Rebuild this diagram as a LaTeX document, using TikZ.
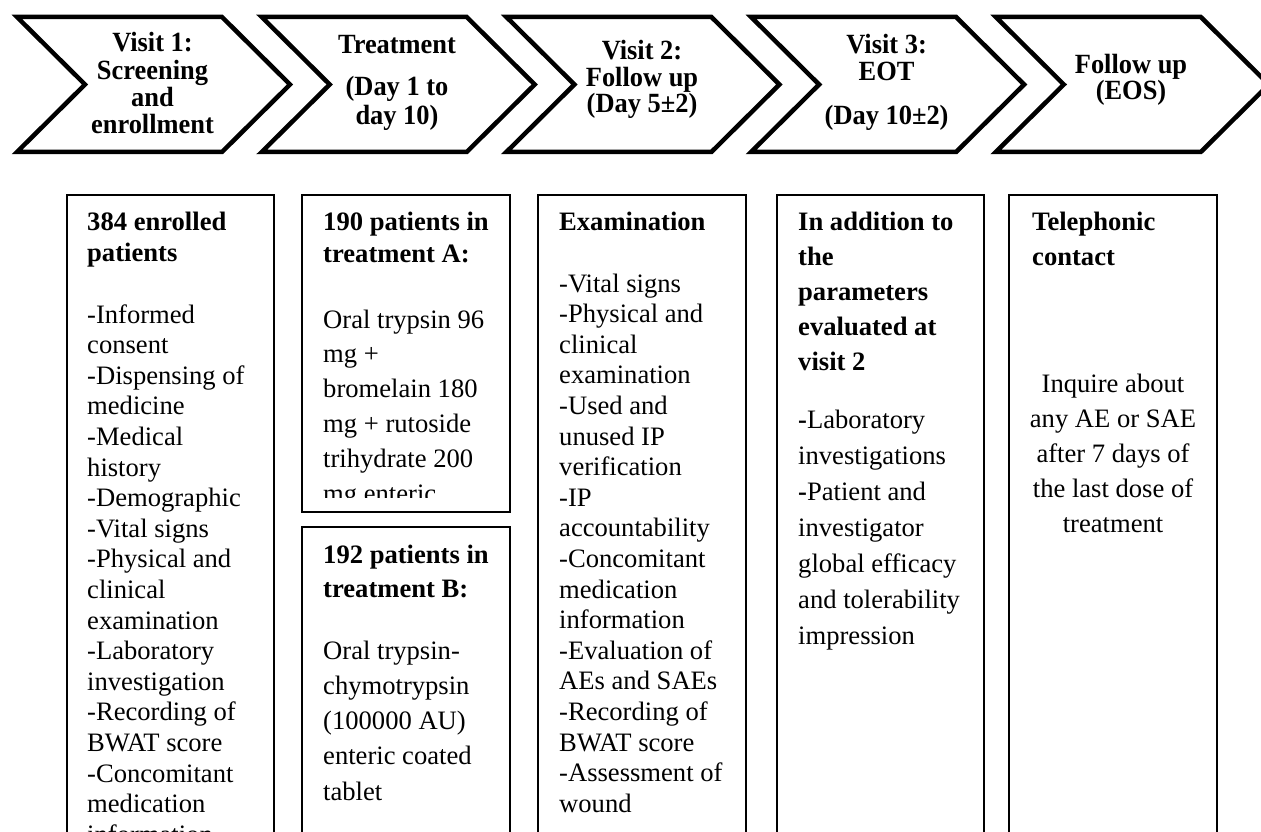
\documentclass[tikz,border=0pt]{standalone}
\usepackage{fontspec}
\usepackage{graphicx}
\setmainfont{Liberation Serif}
\newcommand\blines[5]{%
  \foreach \txtline [count=\i from 0] in {#5}{%
    \node[txt] (#1\i) at (#2,{#3+\i*#4}) {\txtline};}}
\newcommand\bclines[5]{%
  \foreach \txtline [count=\i from 0] in {#5}{%
    \node[txtc] (#1\i) at (#2,{#3+\i*#4}) {\txtline};}}
\newcommand\chlines[5]{%
  \foreach \txtline [count=\i from 0] in {#5}{%
    \node[chtxt] (#1\i) at (#2,{#3+\i*#4}) {\scalebox{0.95}[1]{\txtline}};}}
\begin{document}
\begin{tikzpicture}[x=1pt,y=-1pt,
  chev/.style={draw=black,line width=4.5pt,line join=miter,miter limit=10},
  box/.style={draw=black,line width=1.9pt},
  txt/.style={inner sep=0pt,anchor=base west,font=\fontsize{26.6}{30.6}\selectfont},
  txtc/.style={inner sep=0pt,anchor=base,font=\fontsize{26.6}{30.6}\selectfont},
  hd/.style={txt,font=\fontsize{26.6}{30.6}\selectfont\bfseries},
  chtxt/.style={inner sep=0pt,anchor=base,font=\fontsize{27.8}{27}\selectfont\bfseries}]
\useasboundingbox (0,0) rectangle (1261,832);
\clip (0,0) rectangle (1261,832);
\fill[white] (0,0) rectangle (1261,832);
% chevrons
\foreach \k in {0,...,4}{%
  \pgfmathsetmacro\xo{11+244.7*\k}
  \draw[chev] (\xo+6,17) -- (\xo+211,17) -- (\xo+279,84.5) -- (\xo+211,152)
     -- (\xo+6,152) -- (\xo+74,84.5) -- cycle;}
% chevron texts
\chlines{cA}{152.5}{52}{27.2}{Visit 1:,Screening,and,enrollment}
\node[chtxt] (cB0) at (397,54) {\scalebox{0.95}[1]{Treatment}};
\node[chtxt] (cB1) at (397,96) {\scalebox{0.95}[1]{(Day 1 to}};
\node[chtxt] (cB2) at (397,125) {\scalebox{0.95}[1]{day 10)}};
\node[chtxt] (cC0) at (642,60) {\scalebox{0.95}[1]{Visit 2:}};
\node[chtxt] (cC1) at (642,87) {\scalebox{0.95}[1]{Follow up}};
\node[chtxt] (cC2) at (642,113) {\scalebox{0.95}[1]{(Day 5±2)}};
\node[chtxt] (cD0) at (886.6,54) {\scalebox{0.95}[1]{Visit 3:}};
\node[chtxt] (cD1) at (886.6,81) {\scalebox{0.95}[1]{EOT}};
\node[chtxt] (cD2) at (886.6,125) {\scalebox{0.95}[1]{(Day 10±2)}};
\node[chtxt] (cE0) at (1131,74) {\scalebox{0.95}[1]{Follow up}};
\node[chtxt] (cE1) at (1131,100) {\scalebox{0.95}[1]{(EOS)}};
% boxes
\draw[box] (67,195) rectangle (274,860);
\draw[box] (302,195) rectangle (510,512);
\draw[box] (302,527) rectangle (510,860);
\draw[box] (538,195) rectangle (746,860);
\draw[box] (777,195) rectangle (984,860);
\draw[box] (1009,195) rectangle (1217,860);
% box 1
\node[hd] (a0) at (87,230) {384 enrolled};
\node[hd] (a1) at (87,261) {patients};
\blines{ab}{87}{323}{30.6}{-Informed,consent,-Dispensing of,medicine,-Medical,history,-Demographic,-Vital signs,-Physical and,clinical,examination,-Laboratory,investigation,-Recording of,BWAT score,-Concomitant,medication,information}
% box 2 A
\node[hd] (b0) at (323,230) {190 patients in};
\node[hd] (b1) at (323,262) {treatment A:};
\begin{scope}
\clip (302,195) rectangle (510,497);
\blines{bb}{323}{328}{34.8}{Oral trypsin 96,mg +,bromelain 180,mg + rutoside,trihydrate 200,mg enteric}
\end{scope}
% box 2 B
\node[hd] (c0) at (323,563) {192 patients in};
\node[hd] (c1) at (323,597) {treatment B:};
\blines{cb}{323}{659}{35.25}{Oral trypsin-,chymotrypsin,(100000 AU),enteric coated,tablet}
% box 3
\node[hd] (d0) at (559,230) {Examination};
\blines{db}{559}{292}{30.6}{-Vital signs,-Physical and,clinical,examination,-Used and,unused IP,verification,-IP,accountability,-Concomitant,medication,information,-Evaluation of,AEs and SAEs,-Recording of,BWAT score,-Assessment of,wound}
% box 4
\foreach \txtline [count=\i from 0] in {In addition to,the,parameters,evaluated at,visit 2}{%
  \node[hd] (e\i) at (798,{230+\i*35}) {\txtline};}
\blines{eb}{798}{428}{36}{{\textbf{-}Laboratory},investigations,{\textbf{-}Patient and},investigator,global efficacy,and tolerability,impression}
% box 5
\node[hd] (f0) at (1032,230) {Telephonic};
\node[hd] (f1) at (1032,265) {contact};
\bclines{fb}{1113}{392}{35}{Inquire about,any AE or SAE,after 7 days of,the last dose of,treatment}
\end{tikzpicture}
\end{document}
